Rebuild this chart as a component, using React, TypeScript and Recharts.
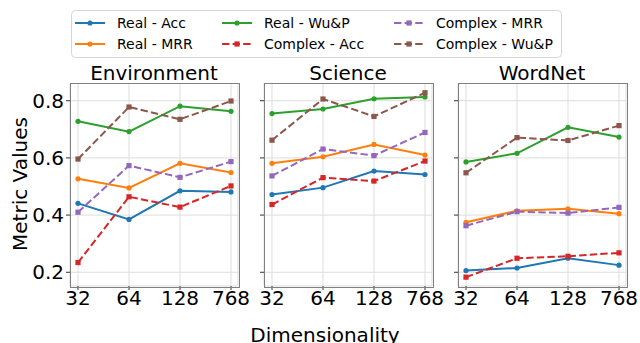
import React from 'react';
import { LineChart, Line, XAxis, YAxis, CartesianGrid } from 'recharts';

const dims = ['32', '64', '128', '768'];
const panelTitles = ['Environment', 'Science', 'WordNet'];
const yTicks = [0.2, 0.4, 0.6, 0.8];

// Environment
const envRealAcc = [0.441, 0.385, 0.485, 0.481];
const envRealMrr = [0.527, 0.495, 0.581, 0.549];
const envRealWup = [0.728, 0.692, 0.781, 0.763];
const envCplxAcc = [0.234, 0.464, 0.428, 0.502];
const envCplxMrr = [0.41, 0.573, 0.532, 0.587];
const envCplxWup = [0.596, 0.778, 0.735, 0.799];

// Science
const sciRealAcc = [0.472, 0.496, 0.554, 0.542];
const sciRealMrr = [0.581, 0.604, 0.647, 0.61];
const sciRealWup = [0.755, 0.771, 0.807, 0.813];
const sciCplxAcc = [0.437, 0.531, 0.519, 0.589];
const sciCplxMrr = [0.537, 0.631, 0.608, 0.689];
const sciCplxWup = [0.662, 0.806, 0.745, 0.828];

// WordNet
const wnRealAcc = [0.206, 0.215, 0.249, 0.225];
const wnRealMrr = [0.375, 0.415, 0.422, 0.405];
const wnRealWup = [0.586, 0.616, 0.707, 0.673];
const wnCplxAcc = [0.183, 0.249, 0.256, 0.268];
const wnCplxMrr = [0.363, 0.412, 0.407, 0.427];
const wnCplxWup = [0.548, 0.671, 0.661, 0.713];

const seriesNames = ['Real - Acc', 'Real - MRR', 'Real - Wu&P', 'Complex - Acc', 'Complex - MRR', 'Complex - Wu&P'];
const seriesKeys = ['realAcc', 'realMrr', 'realWup', 'cplxAcc', 'cplxMrr', 'cplxWup'];
const seriesColors = ['#1f77b4', '#ff7f0e', '#2ca02c', '#d62728', '#9467bd', '#8c564b'];
const seriesDashed = [false, false, false, true, true, true];

const buildRows = (arrs: number[][]) =>
  dims.map((d, i) => {
    const row: any = { dim: d };
    seriesKeys.forEach((k, j) => {
      row[k] = arrs[j][i];
    });
    return row;
  });

const panelData = [
  buildRows([envRealAcc, envRealMrr, envRealWup, envCplxAcc, envCplxMrr, envCplxWup]),
  buildRows([sciRealAcc, sciRealMrr, sciRealWup, sciCplxAcc, sciCplxMrr, sciCplxWup]),
  buildRows([wnRealAcc, wnRealMrr, wnRealWup, wnCplxAcc, wnCplxMrr, wnCplxWup]),
];

const FONT = 'DejaVu Sans, sans-serif';
const PLOT_TOP = 83;
const PLOT_H = 203;
const PLOT_W = 168;
const RIGHT_PAD = 24;
const panelLefts = [70, 264, 458];

const makeDot = (color: string, square: boolean) => (props: any) => {
  const { cx, cy, index } = props;
  if (cx == null || cy == null) return <g key={index} />;
  if (square) {
    return <rect key={index} x={cx - 2.6} y={cy - 2.6} width={5.2} height={5.2} fill={color} />;
  }
  return <circle key={index} cx={cx} cy={cy} r={2.6} fill={color} />;
};

function Panel({ idx }: { idx: number }) {
  const showY = idx === 0;
  const yW = showY ? 70 : 10;
  const left = panelLefts[idx] - yW;
  return (
    <div style={{ position: 'absolute', left, top: PLOT_TOP }}>
      <LineChart
        width={yW + PLOT_W + RIGHT_PAD}
        height={PLOT_H + 40}
        data={panelData[idx]}
        margin={{ top: 0, right: RIGHT_PAD, left: 0, bottom: 0 }}
      >
        <CartesianGrid stroke="#dddddd" strokeWidth={1} />
        <XAxis
          dataKey="dim"
          interval={0}
          padding={{ left: 8, right: 7 }}
          axisLine={false}
          tickSize={4}
          tickMargin={1}
          tickLine={{ stroke: '#333' }}
          height={40}
          tick={{ fontSize: 20, fill: '#000', fontFamily: FONT }}
        />
        <YAxis
          type="number"
          domain={[0.152, 0.862]}
          ticks={yTicks}
          width={yW}
          axisLine={false}
          tickSize={4}
          tickMargin={2}
          tickLine={{ stroke: '#333' }}
          tickFormatter={(v: number) => (showY ? v.toFixed(1) : '')}
          tick={{ fontSize: 20, fill: '#000', fontFamily: FONT }}
        />
        {seriesKeys.map((k, j) => (
          <Line
            key={k}
            dataKey={k}
            name={seriesNames[j]}
            stroke={seriesColors[j]}
            strokeWidth={2}
            strokeDasharray={seriesDashed[j] ? '7.4 3.2' : undefined}
            dot={makeDot(seriesColors[j], seriesDashed[j])}
            activeDot={false}
            isAnimationActive={false}
          />
        ))}
      </LineChart>
      <div
        style={{
          position: 'absolute',
          left: yW - 0.5,
          top: -0.5,
          width: PLOT_W,
          height: PLOT_H,
          border: '1px solid #808080',
          pointerEvents: 'none',
        }}
      />
    </div>
  );
}

const legendCols = [75, 222, 394];
const legendRows = [23, 44];

export default function App() {
  return (
    <div style={{ position: 'absolute', left: 0, top: 0, width: 640, height: 343, background: '#fff', overflow: 'hidden', fontFamily: FONT }}>
      {[0, 1, 2].map((i) => (
        <Panel key={i} idx={i} />
      ))}
      <svg width={640} height={343} style={{ position: 'absolute', left: 0, top: 0, pointerEvents: 'none' }} fontFamily={FONT}>
        {panelTitles.map((t, i) => (
          <text key={t} x={panelLefts[i] + PLOT_W / 2} y={80} textAnchor="middle" fontSize={20} fill="#000">
            {t}
          </text>
        ))}
        <text transform="translate(27,184) rotate(-90)" textAnchor="middle" fontSize={20} fill="#000">
          Metric Values
        </text>
        <text x={325} y={342} textAnchor="middle" fontSize={20} fill="#000">
          Dimensionality
        </text>
        <rect x={71.5} y={10.5} width={490} height={47} rx={4} ry={4} fill="#fff" fillOpacity={0.8} stroke="#d6d6d6" strokeWidth={1} />
        {seriesNames.map((n, j) => {
          const col = Math.floor(j / 2);
          const row = j % 2;
          const x0 = legendCols[col];
          const y0 = legendRows[row];
          const c = seriesColors[j];
          return (
            <g key={n}>
              <line x1={x0} x2={x0 + 30} y1={y0} y2={y0} stroke={c} strokeWidth={2} strokeDasharray={seriesDashed[j] ? '7.4 3.2' : undefined} />
              {seriesDashed[j] ? (
                <rect x={x0 + 15 - 2.6} y={y0 - 2.6} width={5.2} height={5.2} fill={c} />
              ) : (
                <circle cx={x0 + 15} cy={y0} r={2.6} fill={c} />
              )}
              <text x={x0 + 42} y={y0 + 5} fontSize={14} fill="#000">
                {n}
              </text>
            </g>
          );
        })}
      </svg>
    </div>
  );
}
